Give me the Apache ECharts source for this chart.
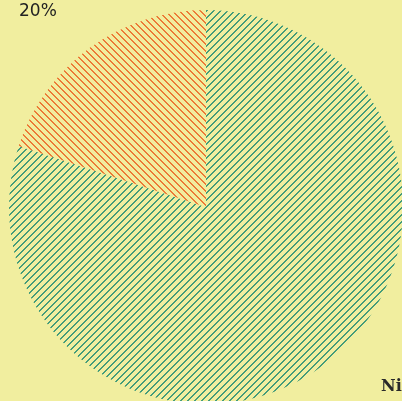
<!DOCTYPE html>
<html><head><meta charset="utf-8">
<script src="https://cdn.jsdelivr.net/npm/echarts@6/dist/echarts.min.js"></script>
<style>html,body{margin:0;padding:0;background:#f1ee9f;}#c{width:402px;height:401px;}</style>
</head><body><div id="c"></div>
<script>
var categories = ['Nitrogen', 'Oxygen'];
var values = [80, 20];
var hatchColors = ['#449c7a', '#ec7a37'];
var hatchDirs = ['/', '\\'];
var bg = '#f1ee9f';

function makeHatch(color, dir) {
  var s = 7;
  var cv = document.createElement('canvas');
  cv.width = s; cv.height = s;
  var ctx = cv.getContext('2d');
  ctx.fillStyle = bg; ctx.fillRect(0, 0, s, s);
  ctx.fillStyle = color;
  for (var y = 0; y < s; y++) {
    var x = dir === '/' ? (s - 1 - y) : y;
    ctx.fillRect(x, y, 1, 1);
    ctx.fillRect((x + 1) % s, y, 1, 1);
  }
  return cv;
}

var data = categories.map(function (n, i) {
  return {
    name: n, value: values[i],
    itemStyle: { color: { image: makeHatch(hatchColors[i], hatchDirs[i]), repeat: 'repeat' } },
    label: i === 0
      ? { show: true, formatter: '{b}', fontFamily: 'DejaVu Serif', fontWeight: 'bold', fontSize: 16, color: '#2a2a2a', overflow: 'none', width: 200 }
      : { show: true, formatter: '{d}%', fontFamily: 'DejaVu Sans', fontSize: 17, color: '#222', overflow: 'none', width: 200 }
  };
});

var chart = echarts.init(document.getElementById('c'), null, { renderer: 'canvas' });
chart.setOption({
  backgroundColor: bg,
  animation: false,
  series: [{
    type: 'pie',
    center: [206, 207],
    radius: 197,
    startAngle: 90,
    clockwise: true,
    labelLine: { show: false },
    label: { position: 'outside', overflow: 'none' },
    labelLayout: function (p) {
      if (p.dataIndex === 0) return { x: 381, y: 387, align: 'left', verticalAlign: 'middle' };
      return { x: 19, y: 12, align: 'left', verticalAlign: 'middle' };
    },
    emphasis: { disabled: true },
    data: data
  }]
});
</script></body></html>
